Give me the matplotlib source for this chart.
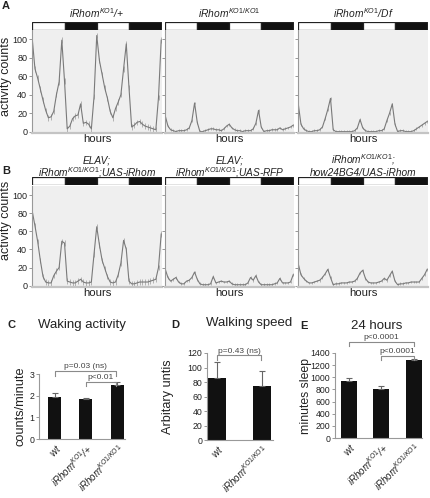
import matplotlib
matplotlib.use('Agg')
import matplotlib.pyplot as plt

plt.rcParams['font.family'] = ['Liberation Sans', 'DejaVu Sans']
plt.rcParams['mathtext.fontset'] = 'custom'
plt.rcParams['mathtext.it'] = 'Liberation Sans:italic'
plt.rcParams['mathtext.rm'] = 'Liberation Sans'
plt.rcParams['mathtext.default'] = 'it'

# ---------------- data ----------------
hours = list(range(49))

a1 = [100, 68, 58, 46, 34, 23, 15, 16, 22, 40, 54, 99, 55, 3, 6, 14, 17, 18, 30, 9, 10, 8, 3, 38,
      104, 77, 62, 47, 36, 22, 15, 25, 32, 40, 68, 95, 48, 5, 7, 10, 11, 8, 6, 5, 4, 3, 2, 37, 99]
a2 = [17, 6, 2, 1, 0, 1, 1, 1, 2, 4, 12, 31, 10, 0, 0, 1, 2, 3, 3, 2, 2, 1, 3, 6, 8, 4, 2, 1, 1, 0,
      1, 1, 1, 3, 9, 23, 5, 0, 1, 1, 2, 2, 2, 4, 2, 3, 4, 5, 7]
a3 = [30, 8, 3, 1, 0, 0, 1, 1, 2, 5, 14, 24, 36, 2, 0, 0, 0, 0, 0, 0, 0, 1, 4, 13, 4, 1, 0, 0, 0, 0,
      1, 1, 3, 12, 20, 30, 8, 0, 1, 1, 0, 0, 0, 1, 3, 5, 7, 9, 11]
b1 = [82, 66, 49, 28, 10, 4, 3, 3, 11, 16, 20, 49, 47, 5, 4, 3, 3, 5, 7, 4, 3, 3, 4, 35, 65, 45,
      28, 19, 10, 4, 3, 4, 12, 25, 50, 40, 5, 2, 2, 3, 4, 4, 4, 4, 5, 6, 7, 20, 57]
b2 = [18, 9, 5, 7, 9, 4, 2, 2, 5, 6, 9, 15, 7, 2, 1, 1, 1, 2, 10, 3, 4, 5, 4, 4, 5, 2, 1, 1, 1, 1,
      1, 3, 9, 6, 11, 4, 1, 1, 1, 1, 1, 2, 3, 8, 3, 3, 3, 4, 12]
b3 = [24, 12, 8, 5, 3, 3, 4, 5, 6, 9, 13, 18, 9, 1, 2, 2, 3, 3, 3, 4, 4, 5, 8, 14, 17, 8, 4, 3, 3,
      3, 4, 5, 8, 6, 11, 16, 5, 1, 2, 2, 3, 3, 4, 4, 4, 4, 8, 12, 18]
trace_sem = [3, 1.5, 1.5, 3, 1.5, 1.5]

a_titles = [r'$iRhom^{KO1}$/+', r'$iRhom^{KO1/KO1}$', r'$iRhom^{KO1}$/Df']
b_titles = [['ELAV;', r'$iRhom^{KO1/KO1}$;UAS-iRhom'],
            ['ELAV;', r'$iRhom^{KO1/KO1}$;UAS-RFP'],
            [r'$iRhom^{KO1/KO1}$;', 'how24BG4/UAS-iRhom']]
trace_yticks = [0, 20, 40, 60, 80, 100]

ld_starts = [0, 12, 24, 36]
ld_colors = ['white', '#111111', 'white', '#111111']
ld_len = 12

c_labels = [r'$wt$', r'$iRhom^{KO1}$/+', r'$iRhom^{KO1/KO1}$']
c_vals = [1.92, 1.85, 2.48]
c_err = [0.20, 0.05, 0.14]
c_yticks = [0, 1, 2, 3]

d_labels = [r'$wt$', r'$iRhom^{KO1/KO1}$']
d_vals = [85, 74.5]
d_err = [22, 21]
d_yticks = [0, 20, 40, 60, 80, 100, 120]

e_labels = [r'$wt$', r'$iRhom^{KO1}$/+', r'$iRhom^{KO1/KO1}$']
e_vals = [935, 807, 1285]
e_err = [50, 45, 15]
e_yticks = [0, 200, 400, 600, 800, 1000, 1200, 1400]

# ---------------- figure ----------------
W, H = 430, 498
fig = plt.figure(figsize=(W / 100, H / 100), dpi=100)


def rect(x0, y0, x1, y1):
    return [x0 / W, 1 - y1 / H, (x1 - x0) / W, (y1 - y0) / H]


def fx(x):
    return x / W


def fy(y):
    return 1 - y / H


TXT = '#222222'
LINE = '#7a7a7a'

panel_x = [(32, 162), (165, 294), (298, 428)]


def trace_panel(x0, x1, top, bottom, data, sem, show_labels, ylab_y):
    ax = fig.add_axes(rect(x0, top, x1, bottom))
    ax.set_facecolor('#efefef')
    ax.errorbar(hours, data, yerr=sem, color=LINE, lw=0.8, elinewidth=0.5,
                ecolor='#9a9a9a', capsize=0)
    ax.set_xlim(-0.1, 48.3)
    ax.set_ylim(-1.5, 110)
    ax.set_xticks([])
    ax.set_yticks(trace_yticks)
    ax.tick_params(axis='y', length=2.5, width=0.6, color='#888888', labelsize=6.5,
                   labelcolor=TXT, pad=1)
    if not show_labels:
        ax.set_yticklabels([])
    for s in ['top', 'right']:
        ax.spines[s].set_visible(False)
    ax.spines['left'].set_color('#999999')
    ax.spines['left'].set_linewidth(0.8)
    ax.spines['bottom'].set_color('#c4c4c4')
    ax.spines['bottom'].set_linewidth(1.6)
    ax.set_xlabel('hours', fontsize=8.2, color=TXT, labelpad=1)
    if show_labels:
        ax.set_ylabel('activity counts', fontsize=9, color=TXT)
        ax.yaxis.set_label_coords((12.5 - x0) / (x1 - x0), ylab_y)
    return ax


def ld_bar(x0, x1, top, bottom):
    ax = fig.add_axes(rect(x0, top, x1, bottom))
    ax.bar(ld_starts, 1, width=ld_len, align='edge', color=ld_colors,
           edgecolor='#222222', linewidth=0.9)
    ax.set_xlim(-0.1, 48.3)
    ax.set_ylim(0, 1)
    ax.axis('off')


# Row A
for i, (data, title) in enumerate(zip([a1, a2, a3], a_titles)):
    x0, x1 = panel_x[i]
    trace_panel(x0, x1, 30, 133, data, trace_sem[i], i == 0, 0.55)
    ld_bar(x0, x1, 22, 30)
    fig.text(fx((x0 + x1) / 2), fy(18.5), title, ha='center', va='baseline',
             fontsize=7.4, style='italic', color=TXT)

# Row B
for i, (data, title) in enumerate(zip([b1, b2, b3], b_titles)):
    x0, x1 = panel_x[i]
    trace_panel(x0, x1, 186, 287, data, trace_sem[3 + i], i == 0, 0.66)
    ld_bar(x0, x1, 177, 185)
    fig.text(fx((x0 + x1) / 2), fy(163), title[0], ha='center', va='baseline',
             fontsize=7.3, style='italic', color=TXT)
    fig.text(fx((x0 + x1) / 2), fy(176), title[1], ha='center', va='baseline',
             fontsize=7.3, style='italic', color=TXT)

fig.text(fx(2), fy(6), 'A', fontsize=8, fontweight='bold', ha='left', va='center', color=TXT)
fig.text(fx(2), fy(171), 'B', fontsize=8, fontweight='bold', ha='left', va='center', color=TXT)


def bar_panel(r, labels, vals, err, yticks, ylim, xlim, width, ylabel, ylab_x, ylab_fs):
    ax = fig.add_axes(r)
    xs = list(range(len(vals)))
    ax.bar(xs, vals, width=width, color='#111111',
           yerr=[[0] * len(err), err],
           error_kw=dict(ecolor='#666666', elinewidth=0.8, capsize=2.2, capthick=0.8))
    ax.set_xlim(*xlim)
    ax.set_ylim(*ylim)
    ax.set_yticks(yticks)
    ax.set_xticks(xs)
    ax.set_xticklabels(labels, rotation=45, ha='right', va='top',
                       rotation_mode='anchor', fontsize=7, style='italic', color=TXT)
    ax.tick_params(axis='y', length=2.5, width=0.6, color='#888888', labelsize=6.3,
                   labelcolor=TXT, pad=1)
    ax.tick_params(axis='x', length=0, pad=2)
    for s in ['top', 'right']:
        ax.spines[s].set_visible(False)
    for s in ['left', 'bottom']:
        ax.spines[s].set_color('#999999')
        ax.spines[s].set_linewidth(0.8)
    ax.set_ylabel(ylabel, fontsize=ylab_fs, color=TXT)
    ax.yaxis.set_label_coords(ylab_x, 0.5)
    return ax


def bracket(ax, x0, x1, y, dh, text, ty, tx):
    ax.plot([x0, x0, x1, x1], [y - dh, y, y, y - dh], color='#8a8a8a', lw=0.8,
            clip_on=False)
    ax.text(tx, ty, text, ha='center', va='center', fontsize=6, color='#444444',
            clip_on=False)


# C
axc = bar_panel(rect(39, 374, 125, 439), c_labels, c_vals, c_err, c_yticks, (0, 3),
                (-0.5, 2.25), 0.42, 'counts/minute', (27 - 39) / 86, 9.2)
bracket(axc, 0, 1.95, 3.15, 0.22, 'p=0.03 (ns)', 3.36, 1.0)
bracket(axc, 1.0, 1.95, 2.64, 0.2, 'p<0.01', 2.84, 1.47)
fig.text(fx(82), fy(325), 'Waking activity', ha='center', va='center', fontsize=9.5, color=TXT)
fig.text(fx(7), fy(325), 'C', fontsize=8, fontweight='bold', ha='left', va='center', color=TXT)

# D
axd = bar_panel(rect(207, 353, 273, 440), d_labels, d_vals, d_err, d_yticks, (0, 120),
                (-0.22, 1.25), 0.4, 'Arbitary untis', (174 - 207) / 66, 9.2)
bracket(axd, 0, 0.98, 117, 7, 'p=0.43 (ns)', 122, 0.49)
fig.text(fx(249), fy(323), 'Walking speed', ha='center', va='center', fontsize=9.5, color=TXT)
fig.text(fx(171), fy(325), 'D', fontsize=8, fontweight='bold', ha='left', va='center', color=TXT)

# E
axe = bar_panel(rect(335, 353, 422, 438), e_labels, e_vals, e_err, e_yticks, (0, 1400),
                (-0.42, 2.25), 0.5, 'minutes sleep', (312 - 335) / 87, 8.8)
bracket(axe, 0, 2.0, 1581, 66, 'p<0.0001', 1650, 1.0)
bracket(axe, 1.0, 2.0, 1351, 66, 'p<0.0001', 1425, 1.5)
fig.text(fx(377), fy(326), '24 hours', ha='center', va='center', fontsize=9.5, color=TXT)
fig.text(fx(300), fy(326), 'E', fontsize=8, fontweight='bold', ha='left', va='center', color=TXT)

fig.savefig('out.png', dpi=100)
